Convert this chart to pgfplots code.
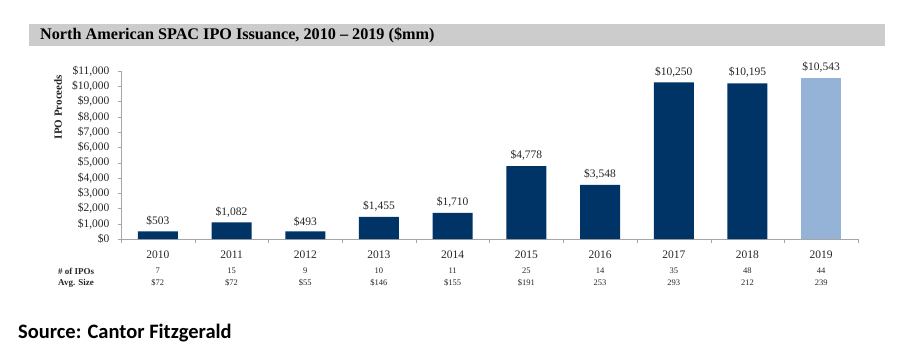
\documentclass[border=0pt]{standalone}
\usepackage{pgfplots}
\pgfplotsset{compat=1.18}
\usepackage{fontspec}
\setmainfont{Liberation Serif}
\newfontfamily\calibri{Carlito}
\definecolor{navy}{HTML}{003366}
\definecolor{lightblue}{HTML}{95B3D7}
\definecolor{titlegray}{HTML}{CCCCCC}
\definecolor{axisgray}{HTML}{A6A6A6}
\definecolor{txt}{HTML}{262626}
\begin{document}
\begin{tikzpicture}[x=1pt,y=1pt]
\useasboundingbox (0,0) rectangle (900,357);
\fill[titlegray] (29,333) rectangle (885,311);
\node[anchor=west, inner sep=0pt, font=\fontsize{16.2}{18}\selectfont\bfseries] at (40,322) {North American SPAC IPO Issuance, 2010 -- 2019 (\$mm)};
\begin{axis}[
  at={(121pt,118pt)}, anchor=south west,
  width=737pt, height=168pt, scale only axis,
  xmin=-0.5, xmax=9.5, ymin=0, ymax=11000,
  axis x line*=bottom, axis y line*=left,
  axis line style={axisgray, -},
  tick style={axisgray},
  tick align=outside,
  major tick length=3pt, minor tick length=4pt,
  ybar, bar width=40pt,
  ytick={0,1000,...,11000},
  scaled y ticks=false,
  /pgf/number format/1000 sep={,},
  /pgf/number format/assume math mode=true,
  yticklabel={\$\pgfmathprintnumber{\tick}},
  xtick={0,...,9},
  xticklabels={2010,2011,2012,2013,2014,2015,2016,2017,2018,2019},
  minor xtick={-0.5,0.5,...,9.5},
  major x tick style={draw=none},
  ticklabel style={font=\fontsize{11.5}{13}\selectfont, text=txt},
  xticklabel style={yshift=-5pt},
  yticklabel style={xshift=-5pt},
  nodes near coords={\$\pgfmathprintnumber{\pgfplotspointmeta}},
  every node near coord/.append style={font=\fontsize{11.5}{13}\selectfont, text=txt, yshift=2pt},
]
\addplot[fill=navy, draw=none, bar shift=0pt] coordinates {
(0,503) (1,1082) (2,493) (3,1455) (4,1710) (5,4778) (6,3548) (7,10250) (8,10195)};
\addplot[fill=lightblue, draw=none, bar shift=0pt] coordinates {(9,10543)};
\end{axis}
\node[rotate=90, font=\bfseries\fontsize{11}{13}\selectfont, text=txt] at (58,250) {IPO Proceeds};
\node[anchor=west, inner sep=0pt, font=\bfseries\fontsize{9}{11}\selectfont, text=txt] at (58,86) {\# of IPOs};
\node[anchor=west, inner sep=0pt, font=\bfseries\fontsize{9}{11}\selectfont, text=txt] at (58,74) {Avg. Size};
\foreach \v [count=\i from 0] in {7,15,9,10,11,25,14,35,48,44}
  \node[inner sep=0pt, font=\fontsize{8.5}{10}\selectfont, text=txt] at (157.85+73.7*\i,86) {\v};
\foreach \v [count=\i from 0] in {\$72,\$72,\$55,\$146,\$155,\$191,253,293,212,239}
  \node[inner sep=0pt, font=\fontsize{8.5}{10}\selectfont, text=txt] at (157.85+73.7*\i,74) {\v};
\node[anchor=west, inner sep=0pt, font=\calibri\bfseries\fontsize{20.5}{24}\selectfont] at (18,24) {Source: Cantor Fitzgerald};
\end{tikzpicture}
\end{document}
